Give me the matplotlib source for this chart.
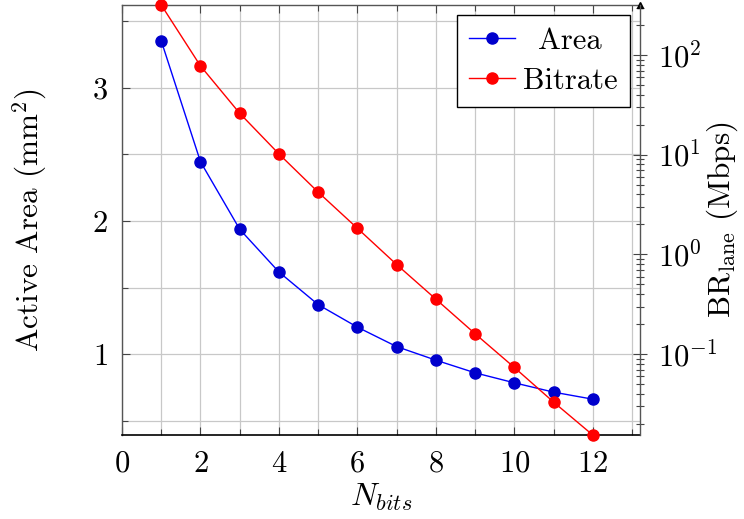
import matplotlib
matplotlib.use("Agg")
import matplotlib.pyplot as plt
from matplotlib import ticker
from matplotlib.transforms import ScaledTranslation
import numpy as np

# number of bits per sample
n_bits = [1, 2, 3, 4, 5, 6, 7, 8, 9, 10, 11, 12]
# active area in mm^2
area = [3.353, 2.445, 1.938, 1.617, 1.372, 1.203, 1.057, 0.955, 0.860, 0.785, 0.715, 0.662]
# per-lane bitrate in Mbps
bitrate = [319.0, 78.0, 26.1, 10.2, 4.22, 1.83, 0.792, 0.356, 0.160, 0.0734, 0.0330, 0.0154]

plt.rcParams['font.family'] = 'cmr10'
plt.rcParams['mathtext.fontset'] = 'cm'
plt.rcParams['axes.formatter.use_mathtext'] = True
plt.rcParams['axes.unicode_minus'] = False
plt.rcParams['font.size'] = 22

fig = plt.figure(figsize=(7.44, 5.19), dpi=100)
ax1 = fig.add_axes([0.164, 0.1618, 0.696, 0.8286])
ax2 = ax1.twinx()

lns1 = ax1.plot(n_bits, area, color='blue', lw=1.0, marker='o', ms=8,
                mfc='#0000cc', mec='#0000cc', label='Area')
lns2 = ax2.plot(n_bits, bitrate, color='red', lw=1.0, marker='o', ms=8,
                mfc='red', mec='red', label='Bitrate', clip_on=False)

# left axis: linear area, limits padded by 10% of the data range
rng = max(area) - min(area)
ax1.set_ylim(min(area) - 0.1 * rng, max(area) + 0.1 * rng)
ax1.set_xlim(0, 13.2)
ax1.xaxis.set_major_locator(ticker.MultipleLocator(2))
ax1.xaxis.set_minor_locator(ticker.MultipleLocator(1))
ax1.yaxis.set_major_locator(ticker.MultipleLocator(1))
ax1.yaxis.set_minor_locator(ticker.MultipleLocator(0.5))
ax1.grid(True, which='both', color='#c8c8c8', lw=0.9)
ax1.set_axisbelow(True)
ax1.tick_params(which='both', direction='in', top=True, right=False, width=0.8, color='#444444')
ax1.tick_params(which='major', length=6, labelsize=22)
ax1.tick_params(which='minor', length=4)
ax1.tick_params(axis='x', pad=11)
ax1.tick_params(axis='y', pad=10)
for s in ['left', 'top']:
    ax1.spines[s].set_color('#555555')
    ax1.spines[s].set_linewidth(1.0)
ax1.spines['bottom'].set_color('black')
ax1.spines['bottom'].set_linewidth(1.2)
ax1.spines['right'].set_visible(False)

ax1.set_xlabel(r'$N_{bits}$', fontsize=23)
ax1.set_ylabel(r'Active Area (mm$^2$)', fontsize=22.5)
ax1.xaxis.set_label_coords(0.5, -0.145)
ax1.xaxis.label.set_va('center')
ax1.yaxis.set_label_coords(-0.178, 0.5)
ax1.yaxis.label.set_va('center')

# right axis: log bitrate, tight to the data
ax2.set_yscale('log')
ax2.set_ylim(min(bitrate), max(bitrate))
ax2.yaxis.set_major_locator(ticker.LogLocator(base=10, numticks=10))
ax2.yaxis.set_minor_locator(ticker.LogLocator(base=10, subs=np.arange(2, 10), numticks=20))
ax2.yaxis.set_minor_formatter(ticker.NullFormatter())
ax2.tick_params(which='both', direction='inout', color='#444444', width=0.8)
ax2.tick_params(which='major', length=10, labelsize=22, pad=8)
ax2.tick_params(which='minor', length=6)
for s in ['left', 'top', 'bottom']:
    ax2.spines[s].set_visible(False)
ax2.spines['right'].set_color('#555555')
ax2.spines['right'].set_linewidth(1.0)
ax2.plot(1, 1, marker='^', color='black', ms=5, transform=ax2.transAxes, clip_on=False)
ax2.set_ylabel(r'BR$_{\mathrm{lane}}$ (Mbps)', fontsize=22.5)
ax2.yaxis.set_label_coords(1.16, 0.5)
ax2.yaxis.label.set_va('center')

lns = lns1 + lns2
labs = [l.get_label() for l in lns]
leg = ax2.legend(lns, labs, loc='upper right', fontsize=22, fancybox=False,
                 framealpha=1, edgecolor='black', handlelength=1.5,
                 borderaxespad=0.33, borderpad=0.4, labelspacing=0.42,
                 handletextpad=0.25)
leg.get_frame().set_linewidth(1.0)
leg.set_zorder(10)

# centre the shorter legend label under the longer one
fig.canvas.draw()
r = fig.canvas.get_renderer()
texts = leg.get_texts()
widths = [t.get_window_extent(r).width for t in texts]
wmax = max(widths)
for t, w in zip(texts, widths):
    dx = (wmax - w) / 2 / fig.dpi
    t.set_transform(t.get_transform() + ScaledTranslation(dx, 0, fig.dpi_scale_trans))

fig.savefig('out.png', dpi=100)
